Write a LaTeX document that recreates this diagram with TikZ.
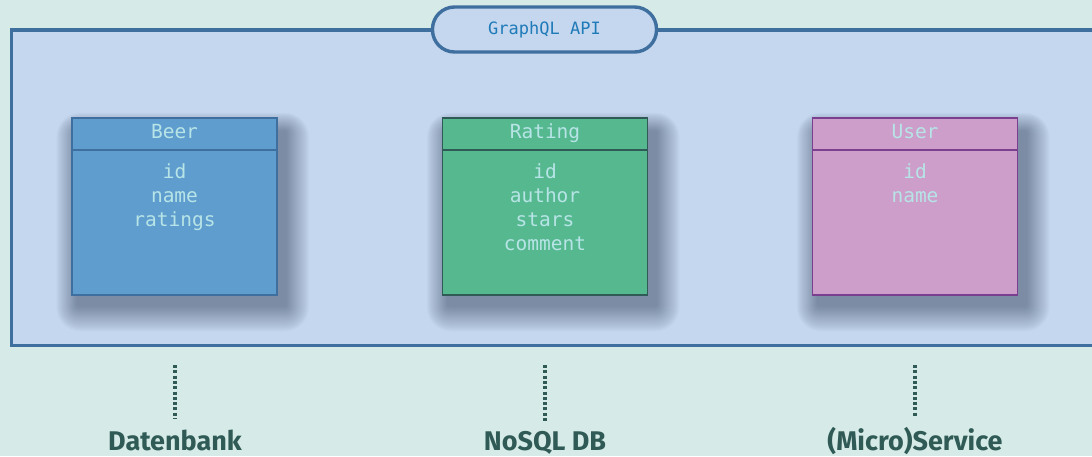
\documentclass[tikz,border=0pt]{standalone}
\usepackage{fontspec}
\setmainfont{Fira Sans}
\setmonofont{DejaVu Sans Mono}
\definecolor{bgc}{HTML}{D6EBE7}
\definecolor{apifill}{HTML}{C4D7EF}
\definecolor{apiborder}{HTML}{3F6F9F}
\definecolor{apitext}{HTML}{1F7AB8}
\definecolor{beerfill}{HTML}{5F9DCF}
\definecolor{beerborder}{HTML}{3F6F9F}
\definecolor{ratingfill}{HTML}{55B88F}
\definecolor{ratingborder}{HTML}{2F5A55}
\definecolor{userfill}{HTML}{CC9EC9}
\definecolor{userborder}{HTML}{7A3F8F}
\definecolor{fieldtext}{HTML}{B7E4E6}
\definecolor{labeltext}{HTML}{2F5A55}
\definecolor{shadowc}{HTML}{1E2A44}
\tikzset{
  entity/.style={draw, line width=1.8pt, minimum width=205pt, minimum height=177pt, inner sep=0pt},
  etitle/.style={font=\ttfamily\fontsize{19.5}{19.5}\selectfont, text=fieldtext, anchor=base, inner sep=0pt},
  efields/.style={font=\ttfamily\fontsize{19.5}{24}\selectfont, text=fieldtext, align=center, anchor=north, inner sep=0pt},
  dotline/.style={draw=labeltext, line width=3.6pt, dash pattern=on 3pt off 2.3pt},
  svclabel/.style={font=\bfseries\fontsize{27}{27}\selectfont, text=labeltext, anchor=base, inner sep=0pt},
}
\begin{document}
\begin{tikzpicture}[x=1pt,y=-1pt]
\useasboundingbox (0,0) rectangle (1092,456);
\fill[bgc] (0,0) rectangle (1092,456);
% outer API frame
\draw[apiborder, fill=apifill, line width=3.6pt] (1100,30) -- (11.5,30) -- (11.5,345.5) -- (1100,345.5);
% soft shadows
\foreach \cx in {174.5,545,915}{
  \foreach \i in {1,...,24}{
    \fill[shadowc, opacity=0.02, rounded corners=\i pt]
      (\cx-102.5+6-\i*0.9, 118+14-\i*0.8) rectangle (\cx+102.5+8+\i*1.0, 295+10+\i*1.1);
  }
}
% entities
\node[entity, draw=beerborder, fill=beerfill] (beer) at (174.5,206.5) {};
\node[entity, draw=ratingborder, fill=ratingfill] (rating) at (545,206.5) {};
\node[entity, draw=userborder, fill=userfill] (user) at (915,206.5) {};
\draw[beerborder, line width=1.8pt] ([yshift=-33pt]beer.north west) -- ([yshift=-33pt]beer.north east);
\draw[ratingborder, line width=1.8pt] ([yshift=-33pt]rating.north west) -- ([yshift=-33pt]rating.north east);
\draw[userborder, line width=1.8pt] ([yshift=-33pt]user.north west) -- ([yshift=-33pt]user.north east);
\node[etitle] (beerT) at ([yshift=-21pt]beer.north) {Beer};
\node[etitle] (ratingT) at ([yshift=-21pt]rating.north) {Rating};
\node[etitle] (userT) at ([yshift=-21pt]user.north) {User};
\node[efields] (beerF) at ([yshift=-46pt]beer.north) {id\\name\\ratings};
\node[efields] (ratingF) at ([yshift=-46pt]rating.north) {id\\author\\stars\\comment};
\node[efields] (userF) at ([yshift=-46pt]user.north) {id\\name};
% API pill
\node[draw=apiborder, fill=apifill, line width=3.4pt, rounded corners=22pt, minimum width=224pt, minimum height=45pt,
  font=\ttfamily\fontsize{17}{17}\selectfont, text=apitext] (api) at (544.5,29.5) {GraphQL API};
% labels
\node[svclabel] (db) at (175,450) {Datenbank};
\node[svclabel] (nosql) at (545,450) {NoSQL DB};
\node[svclabel] (svc) at (915,450) {(Micro)Service};
\coordinate (dbtop) at (175,365);
\coordinate (nosqltop) at (545,365);
\coordinate (svctop) at (915,365);
\draw[dotline] (dbtop) -- ([yshift=10pt]db.north);
\draw[dotline] (nosqltop) -- ([yshift=10pt]nosql.north);
\draw[dotline] (svctop) -- ([yshift=10pt]svc.north);
\end{tikzpicture}
\end{document}
